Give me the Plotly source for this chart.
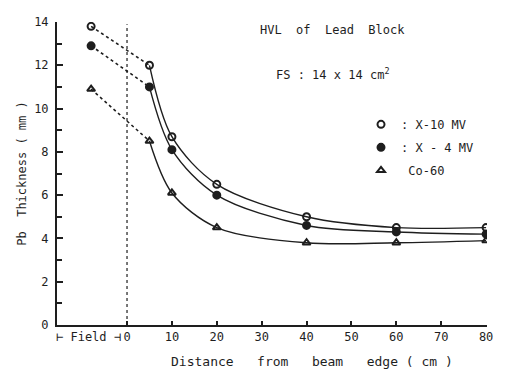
import plotly.graph_objects as go

# Data
distance = [-8, 5, 10, 20, 40, 60, 80]           # cm from beam edge (first point inside field)
x10_mv = [13.8, 12.0, 8.7, 6.5, 5.0, 4.5, 4.5]
x4_mv = [12.9, 11.0, 8.1, 6.0, 4.6, 4.3, 4.2]
co60 = [10.9, 8.5, 6.1, 4.5, 3.8, 3.8, 3.9]
series_names = [": X-10 MV", ": X - 4 MV", " Co-60"]
x_ticks = [0, 10, 20, 30, 40, 50, 60, 70, 80]
y_ticks = [0, 2, 4, 6, 8, 10, 12, 14]
field_edge = 0

INK = "#1e1e1e"
FONT = "DejaVu Sans Mono, monospace"

fig = go.Figure()

series = [
    (x10_mv, "circle-open", series_names[0]),
    (x4_mv, "circle", series_names[1]),
    (co60, "triangle-up-open", series_names[2]),
]

for i, (ys, sym, name) in enumerate(series):
    # dotted part inside the field (first point to 5 cm)
    fig.add_trace(go.Scatter(
        x=distance[:2], y=ys[:2], mode="lines",
        line=dict(color=INK, width=1.6, dash="dot"),
        showlegend=False, hoverinfo="skip"))
    # solid part outside the field
    fig.add_trace(go.Scatter(
        x=distance[1:], y=ys[1:], mode="lines",
        line=dict(color=INK, width=1.4, shape="spline", smoothing=0.9),
        showlegend=False, hoverinfo="skip"))
    # markers
    fig.add_trace(go.Scatter(
        x=distance, y=ys, mode="markers", name=name, legendgroup=f"g{i}",
        marker=dict(symbol=sym, size=7, color=INK,
                    line=dict(color=INK, width=2))))

# dotted field-edge line
fig.add_shape(type="line", x0=field_edge, x1=field_edge, y0=0, y1=13.9,
              xref="x", yref="y", line=dict(color=INK, width=1.2, dash="dot"))

fig.add_annotation(text="HVL  of  Lead  Block", x=0.641, y=0.975, xref="paper", yref="paper",
                   yanchor="middle", showarrow=False, font=dict(family=FONT, size=12, color=INK))
fig.add_annotation(text="FS : 14 x 14 cm<sup>2</sup>", x=0.641, y=0.829, xref="paper",
                   yref="paper", yanchor="middle", showarrow=False,
                   font=dict(family=FONT, size=12, color=INK))
fig.add_annotation(text="⊢ Field ⊣", x=-1, y=0, xref="x", yref="paper", xanchor="right",
                   yanchor="top", yshift=-3, showarrow=False,
                   font=dict(family=FONT, size=12, color=INK))
fig.add_annotation(text="Distance   from   beam   edge ( cm )", x=0.594, y=0, xref="paper",
                   yref="paper", yanchor="top", yshift=-27, showarrow=False,
                   font=dict(family=FONT, size=13, color=INK))

fig.update_layout(
    width=492, height=361,
    margin=dict(l=49, r=9, t=7, b=44),
    paper_bgcolor="white", plot_bgcolor="white",
    font=dict(family=FONT, size=12, color=INK),
    legend=dict(x=0.707, y=0.71, xanchor="left", yanchor="top",
                bgcolor="rgba(0,0,0,0)", font=dict(family=FONT, size=12, color=INK),
                itemwidth=30, tracegroupgap=4),
    showlegend=True,
)
fig.update_xaxes(
    range=[-15.6, 80.2], tickvals=x_ticks, ticks="inside", ticklen=4, tickwidth=1.5,
    tickcolor=INK, showline=True, linecolor=INK, linewidth=2, showgrid=False,
    zeroline=False,
)
fig.update_yaxes(
    range=[0, 14], tickvals=y_ticks, ticks="inside", ticklen=6, tickwidth=1.5,
    tickcolor=INK, showline=True, linecolor=INK, linewidth=2, showgrid=False,
    zeroline=False, minor=dict(dtick=1, ticks="inside", ticklen=5, tickcolor=INK),
    ticklabelstandoff=4,
    title=dict(text="Pb  Thickness ( mm )", standoff=5,
               font=dict(family=FONT, size=12, color=INK)),
)

fig.write_html("out.html")
